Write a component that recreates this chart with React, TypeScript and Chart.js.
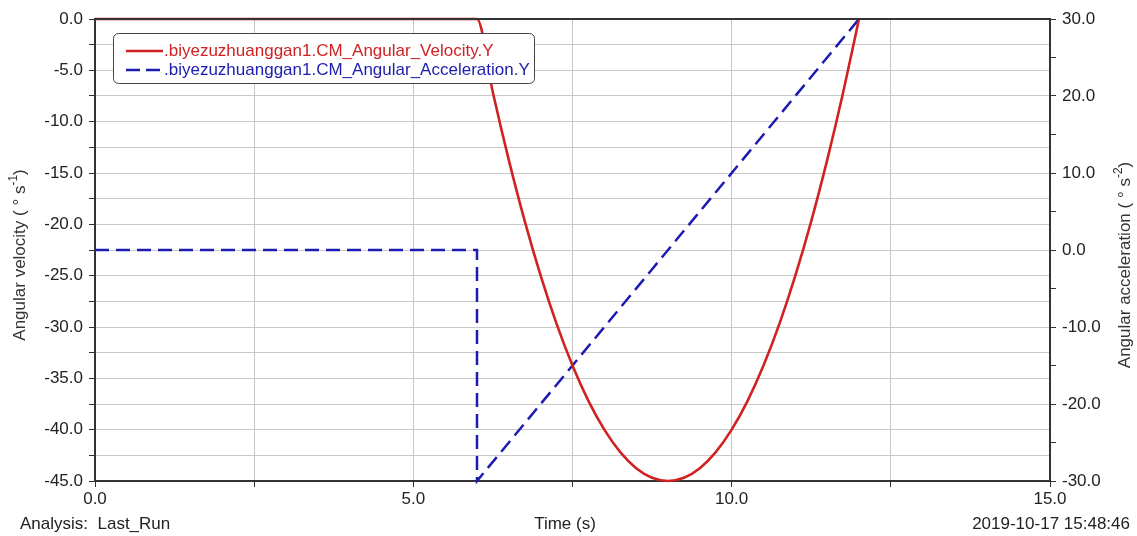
import React, { useEffect, useRef } from "react";
import { Chart, registerables } from "chart.js";

Chart.register(...registerables);

// Angular velocity (left axis, deg/s) sampled over time (s)
const velTime = [0, 1, 2, 3, 4, 5, 6, 6.25, 6.5, 6.75, 7, 7.25, 7.5, 7.75, 8, 8.25, 8.5, 8.75, 9, 9.25, 9.5, 9.75, 10, 10.25, 10.5, 10.75, 11, 11.25, 11.5, 11.75, 12];
const velValues = [0, 0, 0, 0, 0, 0, 0, -7.19, -13.75, -19.69, -25.0, -29.69, -33.75, -37.19, -40.0, -42.19, -43.75, -44.69, -45.0, -44.69, -43.75, -42.19, -40.0, -37.19, -33.75, -29.69, -25.0, -19.69, -13.75, -7.19, 0];

// Angular acceleration (right axis, deg/s^2)
const accTime = [0, 6, 6, 12];
const accValues = [0, 0, -30, 30];

const seriesNames = [
  ".biyezuzhuanggan1.CM_Angular_Velocity.Y",
  ".biyezuzhuanggan1.CM_Angular_Acceleration.Y",
];

const FONT = "'Liberation Sans', Arial, sans-serif";
const RED = "#d02222";
const BLUE = "#1c1cb0";
const AXIS = "#333333";
const GRID = "#c8c8c8";

function drawSup(ctx: CanvasRenderingContext2D, main: string, sup: string, tail: string, size: number) {
  ctx.font = `${size}px ${FONT}`;
  const w1 = ctx.measureText(main).width;
  ctx.font = `${size * 0.7}px ${FONT}`;
  const w2 = ctx.measureText(sup).width;
  ctx.font = `${size}px ${FONT}`;
  const w3 = ctx.measureText(tail).width;
  const total = w1 + w2 + w3;
  let x = -total / 2;
  ctx.textAlign = "left";
  ctx.textBaseline = "middle";
  ctx.fillText(main, x, 0);
  x += w1;
  ctx.font = `${size * 0.7}px ${FONT}`;
  ctx.fillText(sup, x, -size * 0.35);
  x += w2;
  ctx.font = `${size}px ${FONT}`;
  ctx.fillText(tail, x, 0);
}

const decorPlugin = {
  id: "decor",
  afterDraw(chart: any) {
    const { ctx, chartArea } = chart;
    const { left, right, top } = chartArea;
    ctx.save();
    // top border
    ctx.strokeStyle = AXIS;
    ctx.lineWidth = 2;
    ctx.beginPath();
    ctx.moveTo(left, top);
    ctx.lineTo(right, top);
    ctx.stroke();

    // legend box
    const bx = 113, by = 33, bw = 421, bh = 50;
    ctx.fillStyle = "#ffffff";
    ctx.strokeStyle = "#444444";
    ctx.lineWidth = 1;
    ctx.beginPath();
    (ctx as any).roundRect(bx + 0.5, by + 0.5, bw, bh, 5);
    ctx.fill();
    ctx.stroke();
    ctx.lineWidth = 2.5;
    ctx.strokeStyle = RED;
    ctx.beginPath();
    ctx.moveTo(126, 51);
    ctx.lineTo(163, 51);
    ctx.stroke();
    ctx.strokeStyle = BLUE;
    ctx.setLineDash([14, 6]);
    ctx.beginPath();
    ctx.moveTo(126, 70);
    ctx.lineTo(163, 70);
    ctx.stroke();
    ctx.setLineDash([]);
    ctx.font = `17px ${FONT}`;
    ctx.textAlign = "left";
    ctx.textBaseline = "middle";
    ctx.fillStyle = RED;
    ctx.fillText(seriesNames[0], 164, 51);
    ctx.fillStyle = BLUE;
    ctx.fillText(seriesNames[1], 164, 70);

    // bottom texts
    ctx.fillStyle = "#222222";
    ctx.font = `17px ${FONT}`;
    ctx.textBaseline = "middle";
    ctx.textAlign = "left";
    ctx.fillText("Analysis:  Last_Run", 20, 524);
    ctx.textAlign = "center";
    ctx.fillText("Time (s)", 565, 524);
    ctx.textAlign = "right";
    ctx.fillText("2019-10-17 15:48:46", 1130, 524);

    // axis titles
    ctx.fillStyle = "#333333";
    ctx.save();
    ctx.translate(20, 255);
    ctx.rotate(-Math.PI / 2);
    drawSup(ctx, "Angular velocity ( \u00b0 s", "-1", ")", 17);
    ctx.restore();
    ctx.save();
    ctx.translate(1125, 265);
    ctx.rotate(-Math.PI / 2);
    drawSup(ctx, "Angular acceleration ( \u00b0 s", "-2", ")", 17);
    ctx.restore();
    ctx.restore();
  },
};

export default function App() {
  const ref = useRef<HTMLCanvasElement | null>(null);
  useEffect(() => {
    if (!ref.current) return;
    const chart = new Chart(ref.current, {
      type: "line",
      data: {
        datasets: [
          {
            label: seriesNames[0],
            data: velTime.map((t, i) => ({ x: t, y: velValues[i] })),
            yAxisID: "y",
            borderColor: RED,
            borderWidth: 2.6,
            pointRadius: 0,
            cubicInterpolationMode: "monotone",
            clip: 4,
          } as any,
          {
            label: seriesNames[1],
            data: accTime.map((t, i) => ({ x: t, y: accValues[i] })),
            yAxisID: "y2",
            borderColor: BLUE,
            borderWidth: 2.5,
            borderDash: [14, 7],
            pointRadius: 0,
            tension: 0,
            clip: 4,
          } as any,
        ],
      },
      options: {
        responsive: false,
        animation: false,
        devicePixelRatio: 1,
        layout: { padding: { top: 19, left: 0, right: 0, bottom: 0 } },
        plugins: { legend: { display: false }, tooltip: { enabled: false } },
        scales: {
          x: {
            type: "linear",
            min: 0,
            max: 15,
            afterFit: (s: any) => { s.height = 55; },
            ticks: {
              stepSize: 2.5,
              autoSkip: false,
              maxRotation: 0,
              padding: 2,
              color: "#222222",
              font: { family: FONT, size: 17 },
              callback: (v: any) => (Math.abs(v % 5) < 1e-9 ? Number(v).toFixed(1) : ""),
            },
            grid: { color: GRID, tickColor: AXIS, tickLength: 6, lineWidth: 1 },
            border: { color: AXIS, width: 2 },
          },
          y: {
            type: "linear",
            position: "left",
            min: -45,
            max: 0,
            afterFit: (s: any) => { s.width = 95; },
            ticks: {
              stepSize: 2.5,
              autoSkip: false,
              padding: 6,
              color: "#222222",
              font: { family: FONT, size: 17 },
              callback: (v: any) => (Math.abs(v % 5) < 1e-9 ? Number(v).toFixed(1) : ""),
            },
            grid: { color: GRID, tickColor: AXIS, tickLength: 6, lineWidth: 1 },
            border: { color: AXIS, width: 2 },
          },
          y2: {
            type: "linear",
            position: "right",
            min: -30,
            max: 30,
            afterFit: (s: any) => { s.width = 87; },
            ticks: {
              stepSize: 5,
              autoSkip: false,
              padding: 6,
              color: "#222222",
              font: { family: FONT, size: 17 },
              callback: (v: any) => (Math.abs(v % 10) < 1e-9 ? Number(v).toFixed(1) : ""),
            },
            grid: { drawOnChartArea: false, tickColor: AXIS, tickLength: 6 },
            border: { color: AXIS, width: 2 },
          },
        },
      },
      plugins: [decorPlugin],
    });
    return () => chart.destroy();
  }, []);
  return (
    <div style={{ position: "absolute", left: 0, top: 0, width: 1137, height: 536, background: "#fff" }}>
      <canvas ref={ref} width={1137} height={536} style={{ display: "block" }} />
    </div>
  );
}
